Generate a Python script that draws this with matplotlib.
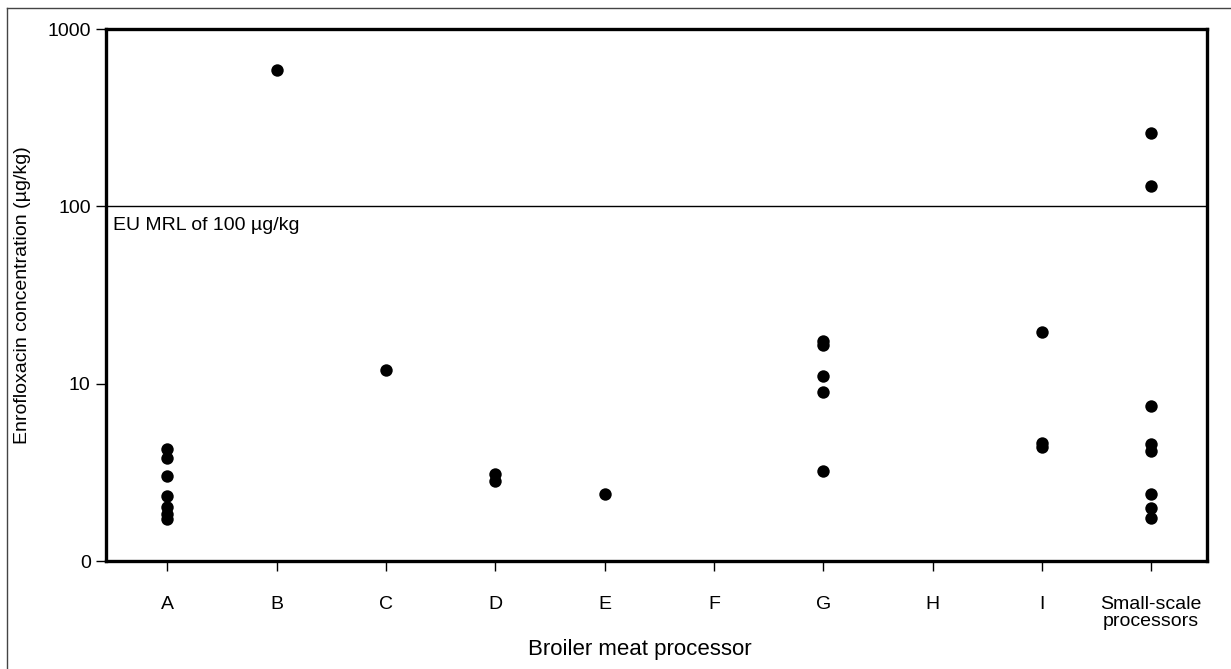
import matplotlib.pyplot as plt
from matplotlib.lines import Line2D

plt.rcParams["font.family"] = ["Liberation Sans", "DejaVu Sans"]

# processors on the x axis
processors = ["A", "B", "C", "D", "E", "F", "G", "H", "I", "Small-scale\nprocessors"]

# enrofloxacin concentrations (ug/kg)
conc_A = [4.27, 3.80, 3.01, 2.32, 2.01, 1.84, 1.72]
conc_B = [587]
conc_C = [11.9]
conc_D = [3.08, 2.82]
conc_E = [2.38]
conc_F = []
conc_G = [17.5, 16.6, 11.0, 8.97, 3.22]
conc_H = []
conc_I = [19.5, 4.63, 4.38]
conc_small = [259, 130.6, 7.52, 4.55, 4.18, 2.40, 1.98, 1.75]

eu_mrl = 100
ytick_vals = [1, 10, 100, 1000]
ytick_labels = ["0", "10", "100", "1000"]

groups = [conc_A, conc_B, conc_C, conc_D, conc_E, conc_F,
          conc_G, conc_H, conc_I, conc_small]

fig = plt.figure(figsize=(12.31, 6.69), dpi=100)
ax = fig.add_axes([106 / 1231, 1 - 561 / 669, (1207 - 106) / 1231, (561 - 29) / 669])

for i, vals in enumerate(groups):
    if vals:
        ax.scatter([i] * len(vals), vals, s=80, color="black", zorder=3, linewidths=0)

ax.axhline(eu_mrl, color="black", lw=1.0)
ax.text(-0.5, 87, "EU MRL of 100 µg/kg", fontsize=14, va="top", ha="left")

ax.set_yscale("log")
ax.set_ylim(1, 1000)
ax.set_xlim(-0.56, 9.51)
ax.set_yticks(ytick_vals)
ax.set_yticklabels(ytick_labels)
ax.minorticks_off()
ax.set_xticks(range(len(processors)))
ax.set_xticklabels(processors, linespacing=1.0)

for sp in ax.spines.values():
    sp.set_linewidth(2.4)
ax.tick_params(axis="both", direction="out", length=7, width=1.0, labelsize=14, pad=4)
ax.tick_params(axis="x", pad=18)

ax.set_ylabel("Enrofloxacin concentration (µg/kg)", fontsize=14)
ax.yaxis.set_label_coords(-0.068, 0.5)
ax.set_xlabel("Broiler meat processor", fontsize=16, va="center")
ax.xaxis.set_label_coords(0.485, -0.167)

# thin frame round the picture (top and left edges only)
fig.add_artist(Line2D([7 / 1231, 1], [1 - 8 / 669, 1 - 8 / 669], color="#444444", lw=1.0))
fig.add_artist(Line2D([7 / 1231, 7 / 1231], [0, 1 - 8 / 669], color="#444444", lw=1.0))

fig.savefig("out.png", dpi=100)
